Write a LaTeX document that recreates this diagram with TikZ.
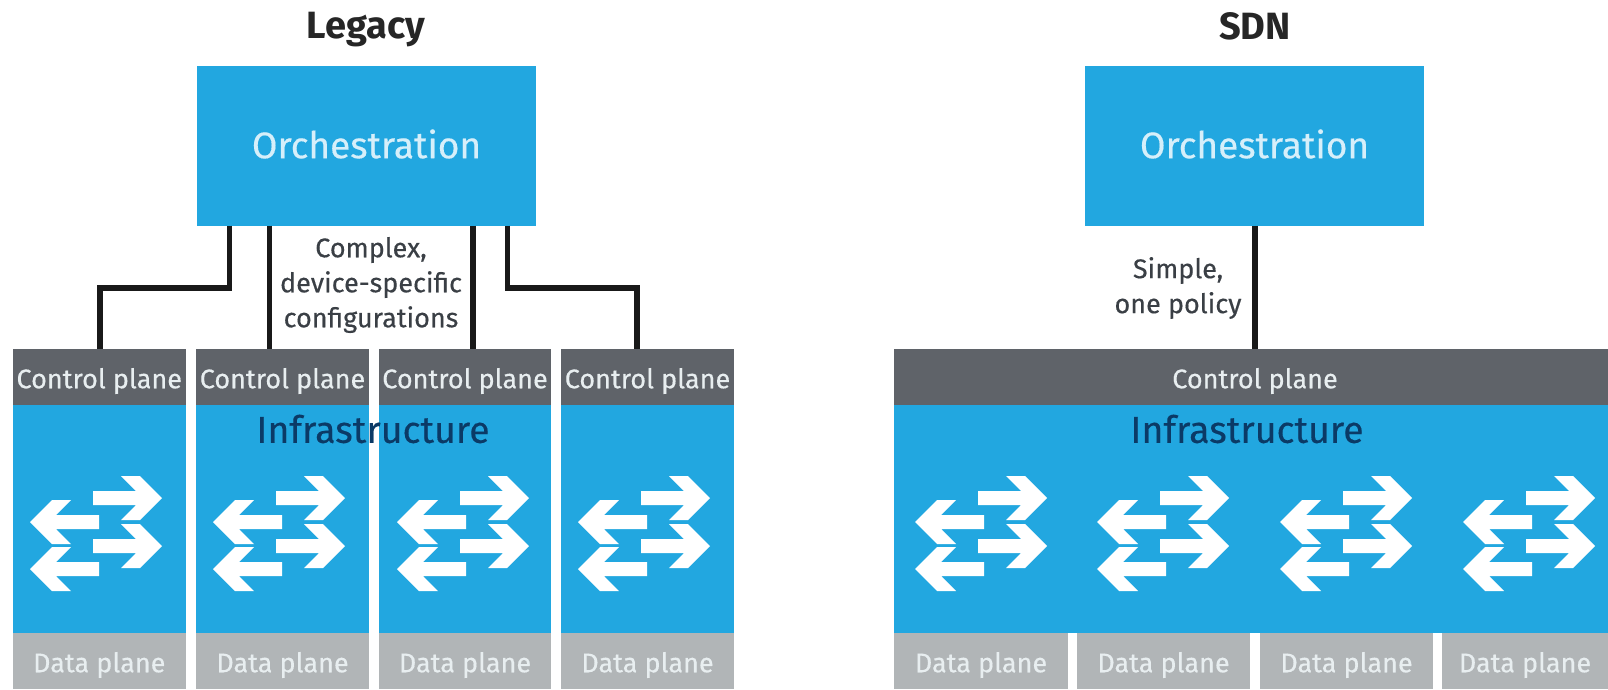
\documentclass[tikz,border=0pt]{standalone}
\usepackage{fontspec}
\setmainfont{Fira Sans}
\newfontfamily\medfont{Fira Sans}[FakeBold=0.35]
\definecolor{hpblue}{HTML}{22A7E0}
\definecolor{ctrlgrey}{HTML}{5F6369}
\definecolor{datagrey}{HTML}{B1B5B7}
\definecolor{navy}{HTML}{0B3A66}
\definecolor{labelgrey}{HTML}{3A3F45}
\definecolor{paletext}{HTML}{E8EEF0}
\definecolor{orchtext}{HTML}{D6EFFA}
\tikzset{
  orchbox/.style={fill=hpblue,draw=none,inner sep=0pt,minimum width=339pt,minimum height=160pt},
  ctrlbox/.style={fill=ctrlgrey,draw=none,inner sep=0pt,minimum height=56pt},
  bluebox/.style={fill=hpblue,draw=none,inner sep=0pt,minimum height=228pt},
  databox/.style={fill=datagrey,draw=none,inner sep=0pt,minimum height=56pt},
  orchtextstyle/.style={inner sep=0pt,text=orchtext,font=\medfont\fontsize{37}{42}\selectfont},
  planetext/.style={inner sep=0pt,text=paletext,font=\medfont\fontsize{27}{32}\selectfont},
  titletext/.style={font=\fontsize{38}{44}\selectfont\bfseries,text=black!85,inner sep=0pt},
  infratext/.style={font=\medfont\fontsize{37.5}{42}\selectfont,text=navy,inner sep=0pt},
  notetext/.style={font=\medfont\fontsize{27}{35}\selectfont,text=labelgrey,inner sep=0pt,align=center},
  wire/.style={draw=black!90,line width=5.5pt,line cap=butt,line join=miter},
  swarrow/.style={fill=white,draw=none}
}
\newcommand{\rarrowshape}[2]{%
  \fill[swarrow,shift={(#1,#2)}] (0,0)--(-22,-22)--(-41,-22)--(-26,-7)--(-69,-7)--(-69,7)--(-26,7)--(-41,22)--(-22,22)--cycle;}
\newcommand{\larrowshape}[2]{%
  \fill[swarrow,shift={(#1,#2)}] (0,0)--(22,-22)--(41,-22)--(26,-7)--(69,-7)--(69,7)--(26,7)--(41,22)--(22,22)--cycle;}
\newcommand{\switchicon}[1]{%
  \rarrowshape{#1+132}{498}\rarrowshape{#1+132}{546}\larrowshape{#1}{522}\larrowshape{#1}{569}}
\begin{document}
\begin{tikzpicture}[x=1pt,y=-1pt]
\useasboundingbox (0,0) rectangle (1608,689);
\fill[white] (0,0) rectangle (1608,689);
% Legacy
\node[titletext] (tL) at (366,30) {Legacy};
\node[orchbox] (oL) at (366.5,145.5) {};
\node[orchtextstyle] (oLt) at (366.5,144) {Orchestration};
\foreach \n/\c/\w in {1/99.25/173.5,2/282.5/173,3/465/172,4/647.5/173}{
  \node[ctrlbox,minimum width=\w pt] (cL\n) at (\c,377) {};
  \node[planetext] (cLt\n) at (\c,381) {Control plane};
  \node[bluebox,minimum width=\w pt] (bL\n) at (\c,519) {};
  \node[databox,minimum width=\w pt] (dL\n) at (\c,661) {};
  \node[planetext] (dLt\n) at (\c,665) {Data plane};
}
\switchicon{30}\switchicon{213}\switchicon{397}\switchicon{578}
\node[infratext] (iL) at (373,429) {Infrastructure};
\coordinate (w1) at (229.5,225.5);
\coordinate (w2) at (269.5,225.5);
\coordinate (w3) at (473,225.5);
\coordinate (w4) at (507.5,225.5);
\coordinate (e1) at (100,288);
\coordinate (e4) at (637,288);
\draw[wire] (w1 |- oL.south) |- (e1) -- (e1 |- cL1.north);
\draw[wire] (w2 |- oL.south) -- (w2 |- cL2.north);
\draw[wire] (w3 |- oL.south) -- (w3 |- cL3.north);
\draw[wire] (w4 |- oL.south) |- (e4) -- (e4 |- cL4.north);
\node[notetext] (nL) at (371,285) {Complex,\\device-specific\\configurations};
% SDN
\node[titletext] (tS) at (1255,26) {SDN};
\node[orchbox] (oS) at (1254.5,145.5) {};
\node[orchtextstyle] (oSt) at (1254.5,144) {Orchestration};
\node[ctrlbox,minimum width=714pt] (cS) at (1251,377) {};
\node[planetext] (cSt) at (1255,381) {Control plane};
\node[bluebox,minimum width=714pt] (bS) at (1251,519) {};
\foreach \n/\c/\w in {1/981/174,2/1163.5/173,3/1346.5/173,4/1525/166}{
  \node[databox,minimum width=\w pt] (dS\n) at (\c,661) {};
  \node[planetext] (dSt\n) at (\c,665) {Data plane};
}
\switchicon{915}\switchicon{1097}\switchicon{1280}\switchicon{1463}
\node[infratext] (iS) at (1247,429) {Infrastructure};
\coordinate (wS) at (1255,225.5);
\draw[wire] (wS |- oS.south) -- (wS |- cS.north);
\node[notetext] (nS) at (1178,288) {Simple,\\one policy};
\end{tikzpicture}
\end{document}
